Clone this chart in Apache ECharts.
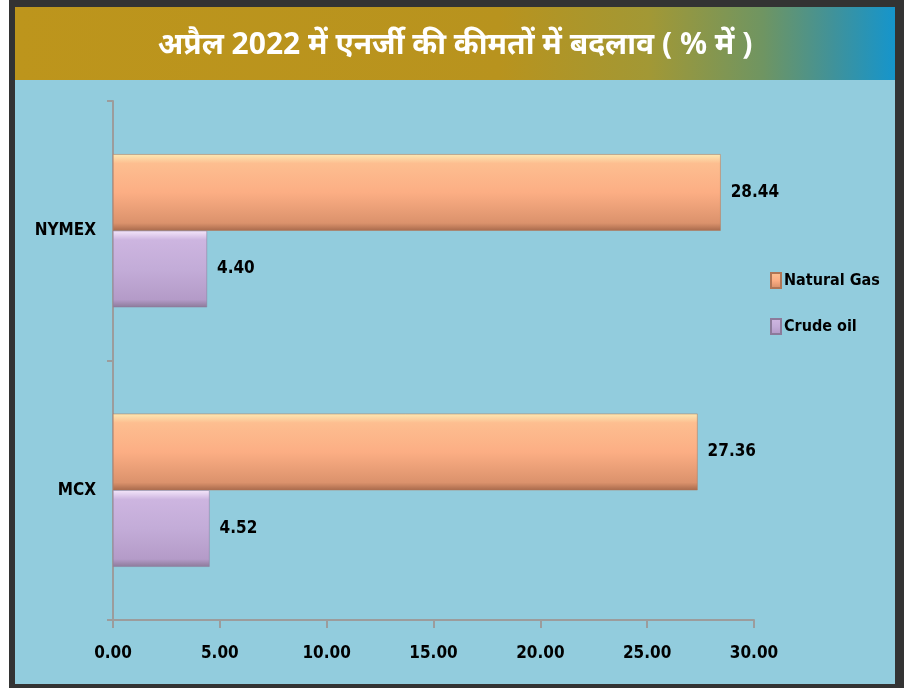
<!DOCTYPE html>
<html><head><meta charset="utf-8">
<script src="https://cdn.jsdelivr.net/npm/echarts@6/dist/echarts.min.js"></script>
<style>html,body{margin:0;padding:0;background:#fff}#c{width:904px;height:688px}</style>
</head><body><div id="c"></div>
<script>
var titleText = 'अप्रैल 2022 में एनर्जी की कीमतों में बदलाव ( % में )';
var categories = ['NYMEX', 'MCX'];
var seriesNames = ['Natural Gas', 'Crude oil'];
var naturalGas = [28.44, 27.36];
var crudeOil = [4.40, 4.52];
var xTicks = [0, 5, 10, 15, 20, 25, 30];

var FONT = "'Liberation Sans Narrow','DejaVu Sans Condensed',sans-serif";
var chart = echarts.init(document.getElementById('c'));

function grad(stops){ return new echarts.graphic.LinearGradient(0,0,0,1,stops); }
var gasColor = grad([{offset:0,color:'#FCE9B4'},{offset:0.12,color:'#FDBE90'},{offset:0.5,color:'#FCAE84'},{offset:0.9,color:'#DB926C'},{offset:1,color:'#A86A4C'}]);
var oilColor = grad([{offset:0,color:'#F4E6FA'},{offset:0.12,color:'#CDB5E0'},{offset:0.5,color:'#C3ACD8'},{offset:0.9,color:'#B49BC8'},{offset:1,color:'#8C7A9A'}]);

chart.setOption({
  animation: false,
  backgroundColor: '#ffffff',
  graphic: [
    {type:'rect', shape:{x:9,y:0,width:895,height:688}, style:{fill:'#333333'}, z:-10, silent:true},
    {type:'rect', shape:{x:15,y:7,width:880,height:677}, style:{fill:'#92CCDD'}, z:-9, silent:true},
    {type:'rect', shape:{x:15,y:7,width:880,height:73}, z:-8, silent:true,
      style:{fill:new echarts.graphic.LinearGradient(0,0,1,0,[
        {offset:0,color:'#BD951C'},{offset:0.55,color:'#B8931E'},{offset:0.72,color:'#A29835'},
        {offset:0.85,color:'#6F9562'},{offset:0.93,color:'#40929A'},{offset:1,color:'#1595CC'}])}},
    {type:'text', x:455, y:45, z:10, silent:true,
      style:{text:titleText, fill:'#ffffff', font:"bold 30px 'Noto Sans','Noto Sans Devanagari',sans-serif", align:'center', verticalAlign:'middle'}}
  ],
  legend: {
    data: seriesNames,
    orient: 'vertical',
    left: 765, top: 267,
    icon: 'rect',
    itemWidth: 10, itemHeight: 15, itemGap: 29,
    textStyle: {fontFamily: FONT, fontWeight:'bold', fontSize: 16, color:'#000', padding:[0,0,0,-2]}
  },
  grid: {left: 113, right: 150, top: 101, bottom: 68, containLabel:false},
  xAxis: {
    type: 'value', min: 0, max: 30, interval: 5,
    axisLine: {show:true, lineStyle:{color:'#9C9C9C', width:2}},
    axisTick: {show:true, length:8, lineStyle:{color:'#9C9C9C', width:2}},
    splitLine: {show:false},
    axisLabel: {margin: 25, fontFamily: FONT, fontWeight:'bold', fontSize:17, color:'#000',
      formatter: function(v){ return v.toFixed(2); }}
  },
  yAxis: {
    type: 'category', data: categories, inverse: true,
    axisLine: {show:true, lineStyle:{color:'#9C9C9C', width:2}},
    axisTick: {show:true, length:6, lineStyle:{color:'#9C9C9C', width:2}},
    axisLabel: {margin: 17, fontFamily: FONT, fontWeight:'bold', fontSize:17, color:'#000'}
  },
  series: [
    {name: seriesNames[0], type:'bar', data: naturalGas, barGap:'0%', barCategoryGap:'41%',
      itemStyle:{color:gasColor, borderColor:'#B07555', borderWidth:0.5},
      label:{show:true, position:'right', distance:10, fontFamily:FONT, fontWeight:'bold', fontSize:17, color:'#000',
        formatter:function(p){return p.value.toFixed(2);}}},
    {name: seriesNames[1], type:'bar', data: crudeOil, barGap:'0%', barCategoryGap:'41%',
      itemStyle:{color:oilColor, borderColor:'#8C7A9A', borderWidth:0.5},
      label:{show:true, position:'right', distance:10, fontFamily:FONT, fontWeight:'bold', fontSize:17, color:'#000',
        formatter:function(p){return p.value.toFixed(2);}}}
  ]
});
</script></body></html>
